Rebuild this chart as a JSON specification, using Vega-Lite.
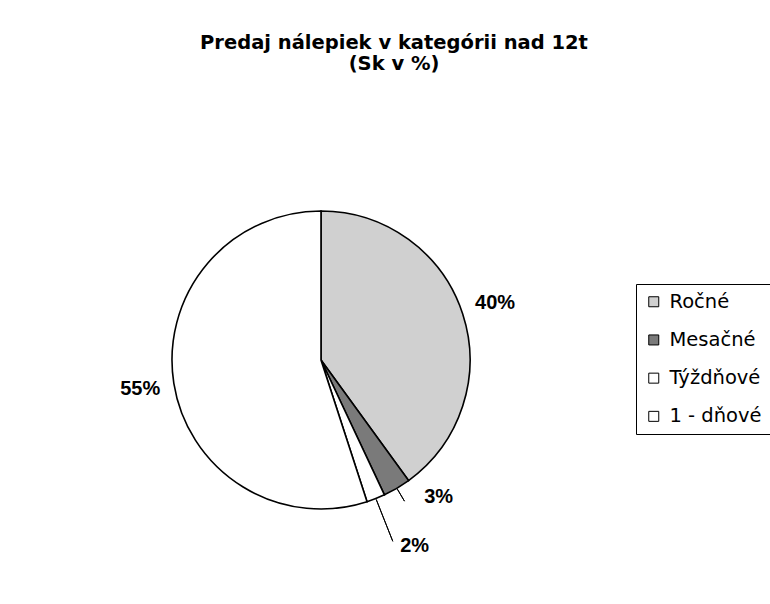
{
  "$schema": "https://vega.github.io/schema/vega-lite/v6.json",
  "autosize": {"type": "none"},
  "width": 600,
  "height": 488,
  "padding": {"left": 21, "top": 116, "right": 149, "bottom": 0},
  "background": "white",
  "config": {"view": {"stroke": null}},
  "title": {
    "text": ["Predaj nálepiek v kategórii nad 12t", "(Sk v %)"],
    "anchor": "middle",
    "frame": "group",
    "dx": 73,
    "offset": 23,
    "baseline": "bottom",
    "lineHeight": 21,
    "font": "DejaVu Sans",
    "fontSize": 19.5,
    "fontWeight": "bold",
    "color": "black"
  },
  "data": {
    "values": [
      {"cat": "Ročné", "pct": 40, "label": "40%", "ord": 1},
      {"cat": "Mesačné", "pct": 3, "label": "3%", "ord": 2},
      {"cat": "Týždňové", "pct": 2, "label": "2%", "ord": 3},
      {"cat": "1 - dňové", "pct": 55, "label": "55%", "ord": 4}
    ]
  },
  "encoding": {
    "theta": {"field": "pct", "type": "quantitative", "stack": true},
    "order": {"field": "ord", "type": "quantitative"}
  },
  "layer": [
    {
      "mark": {"type": "arc", "radius": 149, "stroke": "black", "strokeWidth": 1.6},
      "encoding": {
        "color": {
          "field": "cat",
          "type": "nominal",
          "scale": {
            "domain": ["Ročné", "Mesačné", "Týždňové", "1 - dňové"],
            "range": ["#d0d0d0", "#7a7a7a", "#ffffff", "#ffffff"]
          },
          "legend": {
            "title": null,
            "orient": "none",
            "legendX": 615,
            "legendY": 168,
            "strokeColor": "black",
            "fillColor": "white",
            "padding": 8,
            "symbolType": "square",
            "symbolSize": 100,
            "symbolStrokeColor": "black",
            "symbolStrokeWidth": 1,
            "labelFont": "DejaVu Sans",
            "labelFontSize": 19.5,
            "labelColor": "black",
            "labelOffset": 6,
            "rowPadding": 17.2,
            "labelLimit": 200
          }
        }
      }
    },
    {
      "mark": {"type": "arc", "radius": 164, "radius2": 150, "padAngle": 0.8, "filled": false, "stroke": "black", "strokeWidth": 1},
      "encoding": {
        "strokeOpacity": {"condition": {"test": "datum.ord == 2", "value": 1}, "value": 0}
      }
    },
    {
      "mark": {"type": "arc", "radius": 195, "radius2": 150, "padAngle": 0.8, "filled": false, "stroke": "black", "strokeWidth": 1},
      "encoding": {
        "strokeOpacity": {"condition": {"test": "datum.ord == 3", "value": 1}, "value": 0}
      }
    },
    {
      "mark": {"type": "text", "radius": 183, "font": "Liberation Sans", "fontSize": 20, "fontWeight": "bold", "color": "black"},
      "encoding": {
        "text": {"condition": {"test": "datum.ord == 1 || datum.ord == 4", "field": "label", "type": "nominal"}, "value": ""}
      }
    },
    {
      "mark": {"type": "text", "radius": 180, "dx": 26, "dy": -18, "font": "Liberation Sans", "fontSize": 20, "fontWeight": "bold", "color": "black"},
      "encoding": {
        "text": {"condition": {"test": "datum.ord == 2", "field": "label", "type": "nominal"}, "value": ""}
      }
    },
    {
      "mark": {"type": "text", "radius": 200, "dx": 20, "font": "Liberation Sans", "fontSize": 20, "fontWeight": "bold", "color": "black"},
      "encoding": {
        "text": {"condition": {"test": "datum.ord == 3", "field": "label", "type": "nominal"}, "value": ""}
      }
    }
  ]
}
